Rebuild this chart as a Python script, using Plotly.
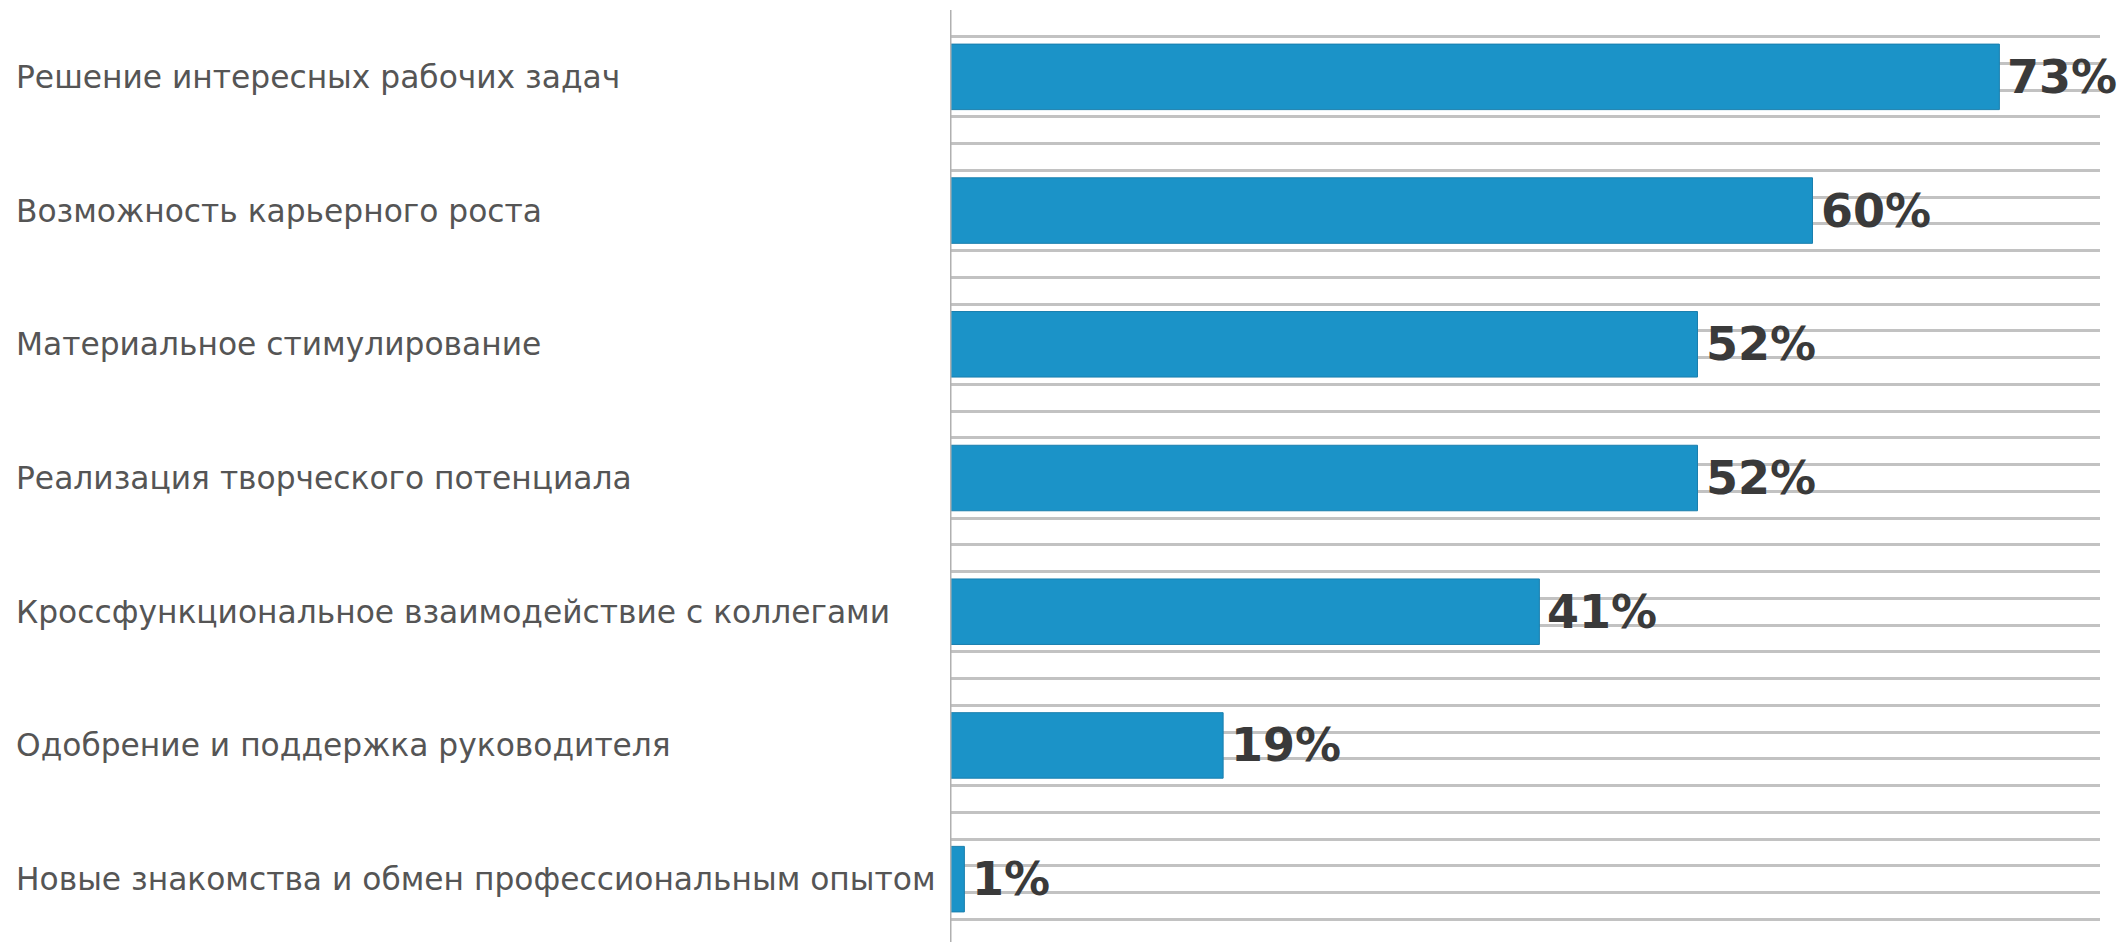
import numpy as np
import plotly.graph_objects as go

categories = [
    "Решение интересных рабочих задач",
    "Возможность карьерного роста",
    "Материальное стимулирование",
    "Реализация творческого потенциала",
    "Кроссфункциональное взаимодействие с коллегами",
    "Одобрение и поддержка руководителя",
    "Новые знакомства и обмен профессиональным опытом",
]
values = [73, 60, 52, 52, 41, 19, 1]
value_labels = [f"{v}%" for v in values]

# page body has an 8px default margin, so the figure is sized to fit the window
W, H = 2120, 934
ML, MR, MT, MB = 942, 28, 2, 0
plot_w = W - ML - MR

positions = list(range(len(categories)))

fig = go.Figure()
fig.add_trace(go.Bar(
    x=values,
    y=positions,
    orientation="h",
    width=0.49,
    marker=dict(color="#1b93c8", line=dict(color="#1a7fae", width=1)),
    cliponaxis=False,
    hoverinfo="skip",
))

annotations = []
for i, c in enumerate(categories):
    annotations.append(dict(
        x=(6 - ML) / plot_w, xref="paper", xanchor="left",
        y=i, yref="y", yanchor="middle",
        text=c, showarrow=False,
        font=dict(family="DejaVu Sans", size=31.3, color="#555555"),
    ))
for i, (v, t) in enumerate(zip(values, value_labels)):
    annotations.append(dict(
        x=v, xref="x", xanchor="left", xshift=6,
        y=i, yref="y", yanchor="middle",
        text=f"<b>{t}</b>", showarrow=False,
        font=dict(family="DejaVu Sans", size=46, color="#3a3a3a"),
    ))

grid_vals = list(np.round(np.arange(-0.3, 6.5, 0.2), 3))

fig.update_layout(
    width=W, height=H,
    margin=dict(l=ML, r=MR, t=MT, b=MB),
    plot_bgcolor="white", paper_bgcolor="white",
    showlegend=False,
    annotations=annotations,
    xaxis=dict(range=[0, 80], showgrid=False, showticklabels=False,
               zeroline=False, showline=False, ticks=""),
    yaxis=dict(range=[6.47, -0.5], showticklabels=False, showgrid=False,
               zeroline=False, showline=False, ticks="",
               minor=dict(tickmode="array", tickvals=grid_vals, showgrid=True,
                          gridcolor="#c2c2c2", gridwidth=2.5, ticks="")),
    shapes=[dict(type="line", xref="x", yref="paper", x0=0, x1=0, y0=0, y1=1.0,
                 line=dict(color="#b0b0b0", width=3), layer="above")],
)

fig.write_html("out.html")
